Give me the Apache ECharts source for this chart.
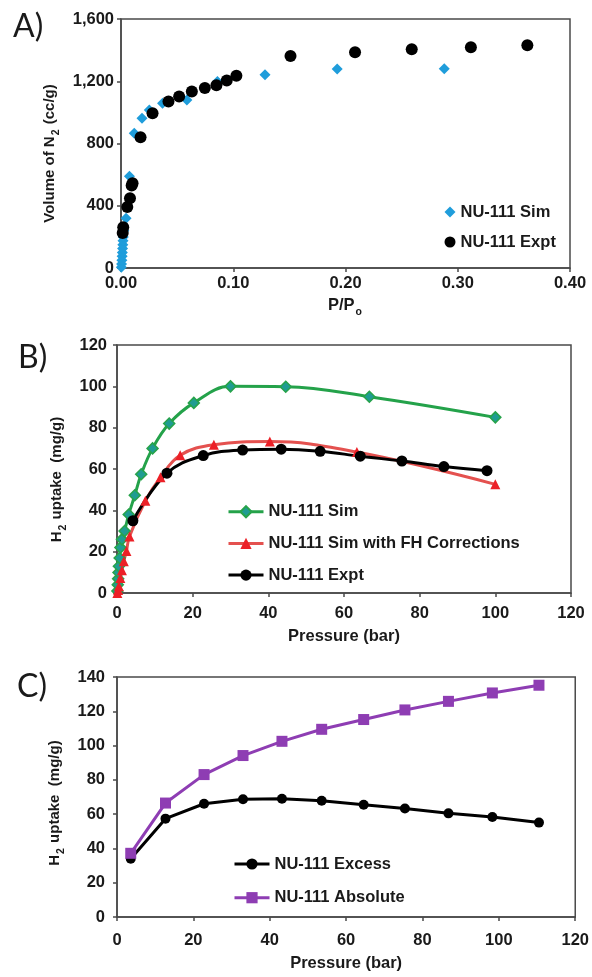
<!DOCTYPE html>
<html>
<head>
<meta charset="utf-8">
<script src="https://cdn.jsdelivr.net/npm/echarts@6/dist/echarts.min.js"></script>
<style>
  html, body { margin: 0; padding: 0; background: #fff; }
  .panel { position: absolute; left: 0; width: 592px; }
  #panelA { top: 0; height: 325px; }
  #panelB { top: 325px; height: 325px; }
  #panelC { top: 650px; height: 327px; }
</style>
</head>
<body>
<div id="panelA" class="panel"></div>
<div id="panelB" class="panel"></div>
<div id="panelC" class="panel"></div>
<script>
// ---- A) N2 isotherm of NU-111 (relative pressure vs. volume adsorbed) ----
const n2SimP  = [0.0003, 0.0005, 0.0008, 0.0010, 0.0012, 0.0014, 0.0016, 0.0018, 0.0020, 0.0025, 0.0045, 0.0075, 0.0118, 0.0187, 0.0252, 0.0370, 0.0587, 0.0859, 0.1283, 0.1926, 0.2880];
const n2SimV  = [5, 25, 50, 75, 100, 125, 150, 175, 200, 240, 320, 590, 866, 963, 1016, 1059, 1080, 1198, 1241, 1278, 1280];
const n2ExptP = [0.0015, 0.0020, 0.0056, 0.0080, 0.0095, 0.0103, 0.0174, 0.0281, 0.0423, 0.0518, 0.0631, 0.0747, 0.0850, 0.0942, 0.1028, 0.1510, 0.2085, 0.2590, 0.3117, 0.3620];
const n2ExptV = [225, 262, 392, 448, 530, 545, 840, 995, 1070, 1102, 1134, 1156, 1175, 1205, 1235, 1363, 1387, 1406, 1419, 1432];

// ---- B) H2 uptake: simulation, simulation with FH corrections, experiment ----
const simP   = [0.1, 0.2, 0.3, 0.4, 0.5, 0.7, 0.9, 1.3, 2.0, 3.1, 4.7, 6.4, 9.4, 13.8, 20.3, 30.0, 44.6, 66.7, 100];
const simU   = [1, 4, 7, 10, 13, 17, 22, 26, 30, 38, 47.3, 57.5, 70, 82, 92, 100, 99.8, 95, 85];
const fhP    = [0.1, 0.3, 0.5, 0.9, 1.3, 1.8, 2.5, 3.3, 7.5, 11.5, 16.7, 25.6, 40.4, 63.4, 100];
const fhU    = [0, 1.5, 3.3, 7.3, 11, 15.4, 20.4, 27.4, 44.7, 56, 66.7, 71.8, 73.3, 68.2, 52.6];
const exptBP = [4.2, 13.2, 22.8, 33.2, 43.4, 53.7, 64.3, 75.3, 86.4, 97.8];
const exptBU = [35, 58, 66.5, 69.2, 69.6, 68.6, 66.2, 63.9, 61.2, 59.2];

// ---- C) H2 uptake: excess vs. absolute ----
const cP        = [3.6, 12.7, 22.8, 33.0, 43.2, 53.6, 64.6, 75.4, 86.8, 98.3, 110.5];
const excessU   = [34, 57.4, 66.1, 68.7, 69, 67.8, 65.5, 63.3, 60.5, 58.4, 55.1];
const absoluteU = [37.2, 66.5, 83.1, 94.2, 102.5, 109.5, 115.2, 120.8, 125.8, 130.7, 135.2];

// axis ranges: [min, max, interval]
const ticksA_x = [0, 0.4, 0.1];
const ticksA_y = [0, 1600, 400];
const ticksB_x = [0, 120, 20];
const ticksB_y = [0, 120, 20];
const ticksC_x = [0, 120, 20];
const ticksC_y = [0, 140, 20];

const FONT = '"Liberation Sans", Arial, Helvetica, sans-serif';
const AXIS_COLOR = '#4a4a4a';
const TEXT_COLOR = '#1a1a1a';
const LABEL_SIZE = 16.5;

const zip = (xs, ys) => xs.map((x, i) => [x, ys[i]]);
const withComma = v => String(v).replace(/\B(?=(\d{3})+(?!\d))/g, ',');

const subRich = {
  s: { fontFamily: FONT, fontWeight: 'bold', fontSize: 10.5, color: TEXT_COLOR, verticalAlign: 'bottom', lineHeight: 10, padding: [0, 1, -3, 1] }
};

function valueAxis(ticks, opts) {
  const [min, max, interval] = ticks;
  const nameStyle = Object.assign({
    fontFamily: FONT, fontWeight: 'bold', fontSize: LABEL_SIZE, color: TEXT_COLOR, lineHeight: 18, rich: subRich
  }, opts.nameTextStyle || {});
  const labelStyle = Object.assign({
    fontFamily: FONT, fontWeight: 'bold', fontSize: LABEL_SIZE, color: TEXT_COLOR
  }, opts.axisLabel || {});
  return Object.assign({
    type: 'value', min, max, interval,
    axisLine: { show: true, onZero: false, lineStyle: { color: AXIS_COLOR, width: 1.5 } },
    axisTick: { show: true, inside: false, length: 4, lineStyle: { color: AXIS_COLOR, width: 1.5 } },
    splitLine: { show: false },
    nameLocation: 'middle'
  }, opts, { nameTextStyle: nameStyle, axisLabel: labelStyle });
}

function frame(g) {
  return Object.assign({ show: true, borderColor: AXIS_COLOR, borderWidth: 1.5, backgroundColor: 'transparent' }, g);
}

function panelLabel(text, left, top) {
  return [{ type: 'text', left, top, style: { text, font: '32px Lato, "Open Sans", sans-serif', fill: '#1a1a1a' } }];
}

const legendText = { fontFamily: FONT, fontWeight: 'bold', fontSize: LABEL_SIZE, color: TEXT_COLOR, lineHeight: 18 };

// ---------- Panel A ----------
const chartA = echarts.init(document.getElementById('panelA'), null, { renderer: 'canvas' });
chartA.setOption({
  animation: false,
  graphic: panelLabel('A)', 13, 11),
  grid: frame({ left: 121, right: 22, top: 19, height: 249 }),
  xAxis: valueAxis(ticksA_x, {
    name: 'P/P{s|o}', nameGap: 27,
    axisLabel: { margin: 7, formatter: v => v.toFixed(2) }
  }),
  yAxis: valueAxis(ticksA_y, {
    name: 'Volume of N{s|2} (cc/g)', nameGap: 53,
    nameTextStyle: { fontSize: 15, padding: [0, 20, 0, 0] },
    axisLabel: { margin: 7, formatter: v => withComma(v) }
  }),
  legend: {
    orient: 'vertical', left: 444.5, top: 203, padding: 0,
    itemWidth: 11, itemHeight: 11, itemGap: 12,
    textStyle: legendText,
    data: ['NU-111 Sim', 'NU-111 Expt']
  },
  series: [
    { name: 'NU-111 Sim', type: 'scatter', symbol: 'diamond', symbolSize: 11,
      itemStyle: { color: '#1f9ddb', opacity: 1 }, data: zip(n2SimP, n2SimV) },
    { name: 'NU-111 Expt', type: 'scatter', symbol: 'circle', symbolSize: 12,
      itemStyle: { color: '#000', opacity: 1 }, data: zip(n2ExptP, n2ExptV) }
  ]
});

// ---------- Panel B ----------
const chartB = echarts.init(document.getElementById('panelB'), null, { renderer: 'canvas' });
chartB.setOption({
  animation: false,
  graphic: panelLabel('B)', 18, 17),
  grid: frame({ left: 117, right: 21, top: 20, height: 255 }),
  xAxis: valueAxis(ticksB_x, { name: 'Pressure (bar)', nameGap: 27, axisLabel: { margin: 12 } }),
  yAxis: valueAxis(ticksB_y, {
    name: 'H{s|2} uptake  (mg/g)', nameGap: 43,
    nameTextStyle: { fontSize: 15, padding: [0, 21, 0, 0] },
    axisLabel: { margin: 10 }
  }),
  legend: {
    orient: 'vertical', left: 227, top: 177.7, padding: 0,
    itemWidth: 35, itemHeight: 14, itemGap: 13.7,
    lineStyle: { width: 3 },
    textStyle: legendText,
    data: ['NU-111 Sim', 'NU-111 Sim with FH Corrections', 'NU-111 Expt']
  },
  series: [
    { name: 'NU-111 Sim', type: 'line', smooth: 0.4, symbol: 'diamond', symbolSize: 11,
      lineStyle: { color: '#24a24a', width: 3 },
      itemStyle: { color: '#1f9c92', borderColor: '#27a34a', borderWidth: 1.5 },
      data: zip(simP, simU) },
    { name: 'NU-111 Sim with FH Corrections', type: 'line', smooth: 0.4, symbol: 'triangle', symbolSize: 10,
      lineStyle: { color: '#e4514f', width: 3 },
      itemStyle: { color: '#ec2027' },
      data: zip(fhP, fhU) },
    { name: 'NU-111 Expt', type: 'line', smooth: 0.4, symbol: 'circle', symbolSize: 11,
      lineStyle: { color: '#000', width: 3 },
      itemStyle: { color: '#000' },
      data: zip(exptBP, exptBU) }
  ]
});

// ---------- Panel C ----------
const chartC = echarts.init(document.getElementById('panelC'), null, { renderer: 'canvas' });
chartC.setOption({
  animation: false,
  graphic: panelLabel('C)', 17, 21),
  grid: frame({ left: 117, right: 15, top: 27, height: 247 }),
  xAxis: valueAxis(ticksC_x, { name: 'Pressure (bar)', nameGap: 36, axisLabel: { margin: 15 } }),
  yAxis: valueAxis(ticksC_y, {
    name: 'H{s|2} uptake  (mg/g)', nameGap: 48,
    nameTextStyle: { fontSize: 15, padding: [0, 12, 0, 0] },
    axisLabel: { margin: 12 }
  }),
  legend: {
    orient: 'vertical', left: 233, top: 205, padding: 0,
    itemWidth: 35, itemHeight: 14, itemGap: 15.7,
    lineStyle: { width: 3 },
    textStyle: legendText,
    data: ['NU-111 Excess', 'NU-111 Absolute']
  },
  series: [
    { name: 'NU-111 Excess', type: 'line', symbol: 'circle', symbolSize: 10,
      lineStyle: { color: '#000', width: 3 }, itemStyle: { color: '#000' },
      data: zip(cP, excessU) },
    { name: 'NU-111 Absolute', type: 'line', symbol: 'rect', symbolSize: 11,
      lineStyle: { color: '#8e3db3', width: 3 }, itemStyle: { color: '#8e3db3' },
      data: zip(cP, absoluteU) }
  ]
});
</script>
</body>
</html>
